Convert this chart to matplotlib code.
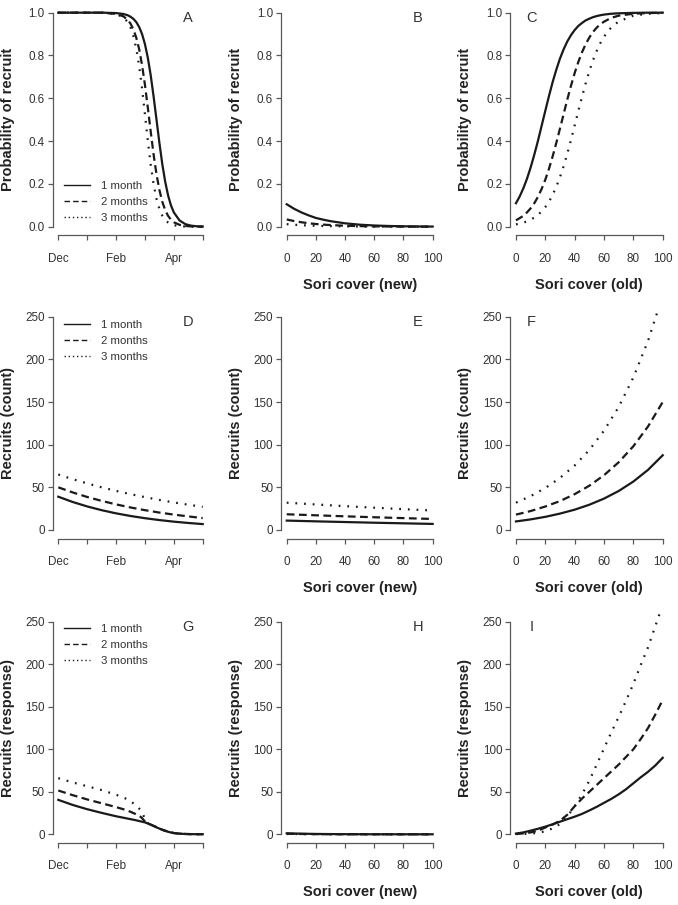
import matplotlib
matplotlib.use("Agg")
import matplotlib.pyplot as plt
from matplotlib.lines import Line2D

plt.rcParams['font.family'] = ['Liberation Sans', 'DejaVu Sans']

# lag labels (legend)
lags = ["1 month", "2 months", "3 months"]

# month axis (0 = Dec ... 5 = May)
month_ticks = [0, 1, 2, 3, 4, 5]
month_labels = ["Dec", "", "Feb", "", "Apr", ""]
sori_ticks = [0, 20, 40, 60, 80, 100]

# --- A: probability of recruit vs date
a_x = [0, 0.5, 1, 1.5, 2, 2.25, 2.4, 2.5, 2.6, 2.7, 2.8, 2.9, 3.0, 3.1,
       3.2, 3.3, 3.4, 3.5, 3.6, 3.7, 3.8, 3.9, 4.0, 4.2, 4.4, 4.6, 4.8, 5.0]
a_1 = [1.0, 1.0, 1.0, 1.0, 0.998, 0.994, 0.988, 0.981, 0.971, 0.956, 0.933, 0.900,
       0.853, 0.789, 0.707, 0.608, 0.500, 0.392, 0.293, 0.211, 0.147, 0.100,
       0.067, 0.029, 0.012, 0.005, 0.002, 0.001]
a_2 = [1.0, 1.0, 1.0, 1.0, 0.994, 0.983, 0.967, 0.949, 0.922, 0.883, 0.829, 0.755,
       0.663, 0.556, 0.444, 0.337, 0.245, 0.172, 0.117, 0.078, 0.051, 0.033,
       0.021, 0.0088, 0.0036, 0.0015, 0.0006, 0.0002]
a_3 = [1.0, 1.0, 1.0, 1.0, 0.994, 0.979, 0.957, 0.931, 0.891, 0.832, 0.750, 0.646,
       0.525, 0.401, 0.289, 0.198, 0.130, 0.083, 0.052, 0.032, 0.020, 0.012,
       0.0074, 0.0027, 0.001, 0.0004, 0.0001, 0.0]

# --- B: probability vs sori cover (new)
b_x = [0, 5, 10, 15, 20, 25, 30, 40, 50, 60, 70, 80, 90, 100]
b_1 = [0.105, 0.084, 0.067, 0.053, 0.041, 0.033, 0.026, 0.016, 0.0096, 0.0058,
       0.0035, 0.0021, 0.0013, 0.0008]
b_2 = [0.034, 0.0266, 0.021, 0.0163, 0.0127, 0.0099, 0.0078, 0.0047, 0.0029,
       0.0017, 0.0011, 0.0006, 0.0004, 0.0002]
b_3 = [0.012, 0.0094, 0.0073, 0.0057, 0.0045, 0.0035, 0.0027, 0.0016, 0.0010,
       0.0006, 0.0004, 0.0002, 0.0001, 0.0001]

# --- C: probability vs sori cover (old)
c_x = [0, 2.5, 5, 7.5, 10, 12.5, 15, 17.5, 20, 22.5, 25, 27.5, 30, 32.5, 35,
       37.5, 40, 42.5, 45, 47.5, 50, 52.5, 55, 57.5, 60, 65, 70, 80, 90, 100]
c_1 = [0.110, 0.141, 0.179, 0.224, 0.277, 0.337, 0.402, 0.472, 0.542, 0.611,
       0.676, 0.734, 0.786, 0.829, 0.866, 0.895, 0.919, 0.938, 0.952, 0.964,
       0.972, 0.979, 0.984, 0.988, 0.991, 0.995, 0.997, 0.999, 1.0, 1.0]
c_2 = [0.030, 0.040, 0.051, 0.067, 0.086, 0.110, 0.140, 0.177, 0.220, 0.271,
       0.329, 0.392, 0.459, 0.527, 0.595, 0.659, 0.718, 0.770, 0.815, 0.853,
       0.884, 0.910, 0.930, 0.946, 0.958, 0.976, 0.986, 0.995, 0.998, 0.9995]
c_3 = [0.011, 0.0148, 0.019, 0.0253, 0.033, 0.043, 0.055, 0.072, 0.092, 0.117,
       0.149, 0.187, 0.232, 0.283, 0.342, 0.406, 0.473, 0.541, 0.607, 0.670,
       0.727, 0.778, 0.821, 0.858, 0.888, 0.932, 0.959, 0.986, 0.995, 0.998]

# --- D: recruits (count) vs date
d_x = [0, 0.5, 1, 1.5, 2, 2.5, 3, 3.5, 4, 4.5, 5]
d_1 = [39.0, 32.8, 27.6, 23.2, 19.5, 16.4, 13.8, 11.6, 9.75, 8.2, 6.9]
d_2 = [50.0, 44.0, 38.7, 34.1, 30.0, 26.4, 23.2, 20.4, 18.0, 15.9, 13.9]
d_3 = [65.0, 59.5, 54.6, 50.0, 45.8, 42.0, 38.5, 35.2, 32.3, 29.6, 27.1]

# --- E: recruits (count) vs sori cover (new)
e_x = [0, 20, 40, 60, 80, 100]
e_1 = [11.0, 10.1, 9.3, 8.5, 7.8, 7.1]
e_2 = [18.4, 17.2, 16.0, 14.9, 13.9, 12.9]
e_3 = [32.0, 29.9, 27.9, 26.1, 24.4, 22.8]

# --- F: recruits (count) vs sori cover (old)
f_x = [0, 10, 20, 30, 40, 50, 60, 70, 80, 90, 100]
f_1 = [10.0, 12.4, 15.4, 19.2, 23.8, 29.6, 36.8, 45.7, 56.8, 70.5, 87.6]
f_2 = [18.0, 22.2, 27.5, 33.9, 42.0, 51.9, 64.2, 79.4, 98.2, 121.4, 150.0]
f_3 = [32.0, 39.7, 49.2, 61.0, 75.6, 93.8, 116.4, 144.2, 178.9, 221.8, 275.0]

# --- G: recruits (response) vs date
g_x = [0, 0.5, 1, 1.5, 2, 2.25, 2.5, 2.65, 2.75, 2.85, 2.9, 2.95, 3.0, 3.05,
       3.1, 3.2, 3.3, 3.4, 3.5, 3.6, 3.7, 3.8, 3.9, 4.0, 4.2, 4.4, 4.6, 4.8, 5.0]
g_1 = [40.5, 34.5, 29.5, 25.2, 21.2, 19.5, 17.8, 16.8, 16.0, 15.2, 14.8, 14.4,
       14.0, 13.4, 12.8, 11.3, 9.8, 8.2, 6.7, 5.3, 4.1, 3.0, 2.1, 1.4, 0.7,
       0.35, 0.2, 0.12, 0.08]
g_2 = [51.5, 46.0, 41.0, 36.5, 32.0, 29.5, 26.5, 24.2, 22.5, 20.5, 19.0, 17.0,
       15.0, 13.8, 12.9, 11.4, 9.9, 8.3, 6.8, 5.4, 4.2, 3.1, 2.2, 1.5, 0.75,
       0.4, 0.2, 0.12, 0.08]
g_3 = [66.0, 61.0, 56.5, 52.0, 46.5, 43.5, 39.0, 35.0, 32.0, 28.5, 26.0, 22.0,
       18.0, 14.5, 12.9, 11.4, 9.9, 8.3, 6.8, 5.4, 4.2, 3.1, 2.2, 1.5, 0.75,
       0.4, 0.2, 0.12, 0.08]

# --- H: recruits (response) vs sori cover (new)
h_x = [0, 10, 20, 30, 40, 50, 60, 80, 100]
h_1 = [1.16, 0.70, 0.41, 0.25, 0.15, 0.09, 0.05, 0.02, 0.01]
h_2 = [0.63, 0.37, 0.22, 0.13, 0.08, 0.045, 0.025, 0.01, 0.003]
h_3 = [0.38, 0.23, 0.13, 0.08, 0.045, 0.027, 0.016, 0.005, 0.002]

# --- I: recruits (response) vs sori cover (old)
i_x = [0, 5, 10, 15, 20, 25, 30, 35, 40, 45, 50, 55, 60, 65, 70, 75, 80, 85,
       90, 95, 100]
i_1 = [0.8, 2.2, 4.3, 6.5, 9.0, 11.8, 14.8, 17.8, 20.7, 24.0, 28.0, 32.3, 37.0,
       41.7, 47.0, 53.0, 60.0, 67.0, 73.5, 81.0, 90.0]
i_2 = [0.4, 1.0, 2.2, 4.2, 8.0, 11.5, 16.0, 23.0, 33.0, 42.0, 50.0, 58.0, 66.0,
       74.0, 82.0, 91.0, 100.0, 112.0, 125.0, 141.0, 158.0]
i_3 = [0.3, 0.5, 0.8, 1.8, 3.5, 7.0, 12.0, 21.0, 33.0, 47.0, 63.0, 82.0, 101.0,
       120.0, 138.0, 157.0, 177.0, 199.0, 220.0, 245.0, 270.0]

LINE = "#1a1a1a"
GREY = "#595959"
TXT = "#333333"
LINESTYLES = ["-", (0, (3.5, 2.0)), (0, (0.8, 3.1))]
LEG_STYLES = ["-", (0, (4.0, 2.2)), (0, (1.0, 2.0))]

W, H = 678, 905
col_left = [52.5, 280.9, 510.1]
col_w = [156.0, 157.6, 158.5]
row_top = [4.1, 308.2, 613.2]
row_h = [231.2, 230.3, 229.6]

fig = plt.figure(figsize=(W / 100, H / 100), dpi=100)


def make_axes(r, c):
    l = col_left[c] / W
    b = 1 - (row_top[r] + row_h[r]) / H
    return fig.add_axes([l, b, col_w[c] / W, row_h[r] / H])


def style(ax, kind_x, kind_y):
    for s in ["top", "right"]:
        ax.spines[s].set_visible(False)
    for s in ["left", "bottom"]:
        ax.spines[s].set_color(GREY)
        ax.spines[s].set_linewidth(0.9)
    if kind_x == "month":
        ax.set_xlim(-0.2, 5.2)
        ax.set_xticks(month_ticks)
        ax.set_xticklabels(month_labels)
        ax.spines["bottom"].set_bounds(0, 5)
    else:
        ax.set_xlim(-4, 104)
        ax.set_xticks(sori_ticks)
        ax.spines["bottom"].set_bounds(0, 100)
    if kind_y == "prob":
        ax.set_ylim(-0.04, 1.04)
        yt = [0, 0.2, 0.4, 0.6, 0.8, 1.0]
        ax.set_yticks(yt)
        ax.set_yticklabels(["%.1f" % v for v in yt])
        ax.spines["left"].set_bounds(0, 1)
    else:
        ax.set_ylim(-10, 260)
        ax.set_yticks([0, 50, 100, 150, 200, 250])
        ax.spines["left"].set_bounds(0, 250)
    ax.tick_params(direction="out", length=3.6, width=0.9, color=GREY,
                   labelsize=8.4, labelcolor=TXT)
    ax.tick_params(axis="x", pad=9.0)
    ax.tick_params(axis="y", pad=2)


panels = [
    ("A", 0, 0, a_x, [a_1, a_2, a_3], "month", "prob", "Probability of recruit", None, "right"),
    ("B", 0, 1, b_x, [b_1, b_2, b_3], "sori", "prob", "Probability of recruit", "Sori cover (new)", "right"),
    ("C", 0, 2, c_x, [c_1, c_2, c_3], "sori", "prob", "Probability of recruit", "Sori cover (old)", "left"),
    ("D", 1, 0, d_x, [d_1, d_2, d_3], "month", "count", "Recruits (count)", None, "right"),
    ("E", 1, 1, e_x, [e_1, e_2, e_3], "sori", "count", "Recruits (count)", "Sori cover (new)", "right"),
    ("F", 1, 2, f_x, [f_1, f_2, f_3], "sori", "count", "Recruits (count)", "Sori cover (old)", "left"),
    ("G", 2, 0, g_x, [g_1, g_2, g_3], "month", "count", "Recruits (response)", None, "right"),
    ("H", 2, 1, h_x, [h_1, h_2, h_3], "sori", "count", "Recruits (response)", "Sori cover (new)", "right"),
    ("I", 2, 2, i_x, [i_1, i_2, i_3], "sori", "count", "Recruits (response)", "Sori cover (old)", "left"),
]

legend_y = {"A": 0.144, "D": 0.858, "G": 0.861}

for letter, r, c, xs, series, kx, ky, ylab, xlab, side in panels:
    ax = make_axes(r, c)
    style(ax, kx, ky)
    for ys, ls in zip(series, LINESTYLES):
        ax.plot(xs, ys, color=LINE, lw=1.6, linestyle=ls)
    ax.set_ylabel(ylab, fontsize=10.5, fontweight="bold", color="#222222", va="center")
    ax.yaxis.set_label_coords(-0.285, 0.5)
    if xlab:
        ax.set_xlabel(xlab, fontsize=10.5, fontweight="bold", color="#222222", va="center")
        ax.xaxis.set_label_coords(0.5, -0.215)
    lx = 0.87 if side == "right" else 0.135
    ax.text(lx, 0.94, letter, transform=ax.transAxes, ha="center", va="center",
            fontsize=10.5, color=TXT)
    if letter in legend_y:
        handles = [Line2D([], [], color=LINE, lw=1.0, linestyle=ls) for ls in LEG_STYLES]
        leg = ax.legend(handles, lags, loc="center left",
                        bbox_to_anchor=(0.074, legend_y[letter]), frameon=False,
                        fontsize=8.2, handlelength=2.25, handletextpad=1.0,
                        labelspacing=0.5, borderpad=0, borderaxespad=0)
        for t in leg.get_texts():
            t.set_color(TXT)

fig.savefig("out.png", dpi=100)
